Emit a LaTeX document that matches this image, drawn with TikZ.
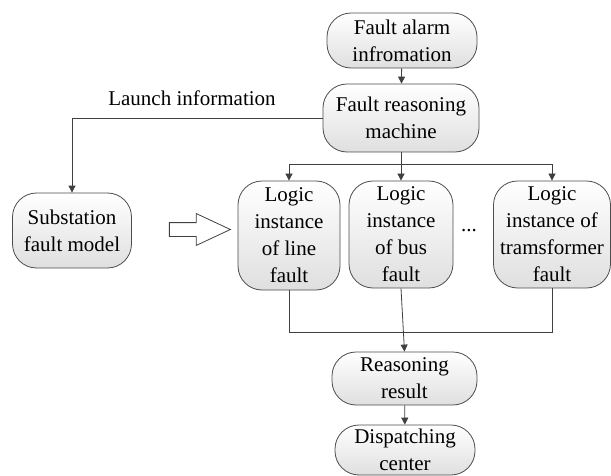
\documentclass[tikz,border=0pt]{standalone}
\usepackage{fontspec}
\setmainfont{Liberation Serif}
\usetikzlibrary{arrows.meta,shapes.arrows}
\tikzset{
  box/.style={draw=black!70, rounded corners=24pt, top color=white, bottom color=gray!25,
    align=center, inner sep=2pt, font=\fontsize{21}{27}\selectfont},
  arr/.style={-{Triangle[length=7pt,width=7pt]}},
}
\begin{document}
\begin{tikzpicture}[x=1pt,y=1pt,line width=0.8pt,draw=black!75]
\useasboundingbox (0,0) rectangle (611,475);
%top
\node[box,minimum width=150,minimum height=55] (alarm) at (402,434.5) {Fault alarm\\infromation};
\node[box,minimum width=156,minimum height=68] (reason) at (401,357) {Fault reasoning\\machine};
\node[font=\fontsize{21}{27}\selectfont] (launch) at (192,377) {Launch information};
%left
\node[box,minimum width=119,minimum height=75] (subst) at (72,244.5) {Substation\\fault model};
\node[single arrow,draw=black!75,fill=white,inner sep=6.5pt,single arrow head extend=9pt,
  single arrow tip angle=50,minimum height=61] (conv) at (192.5,245.5) {};
%logic instances
\node[box,minimum width=102,minimum height=109] (line) at (289,239.5) {Logic\\instance\\of line\\fault};
\node[box,minimum width=104,minimum height=107] (bus) at (401,240.5) {Logic\\instance\\of bus\\fault};
\node[font=\fontsize{21}{27}\selectfont] (dots) at (469,244) {...};
\node[box,minimum width=117,minimum height=107] (trans) at (552,240.5) {Logic\\instance of\\tramsformer\\fault};
%bottom
\node[box,minimum width=145,minimum height=53] (result) at (404.5,96.5) {Reasoning\\result};
\node[box,minimum width=140,minimum height=50] (dispatch) at (405,25) {Dispatching\\center};
\coordinate (split) at (401,311);
\coordinate (merge) at (404,143);
%connectors
\draw[arr] (alarm) -- (reason);
\draw[arr] (reason.west) -| (subst.north);
\draw (reason.south) -- (split);
\draw (line.north |- split) -- (trans.north |- split);
\draw[arr] (line.north |- split) -- (line.north);
\draw[arr] (split) -- (bus.north);
\draw[arr] (trans.north |- split) -- (trans.north);
\draw (line.south) -- (line.south |- merge) -- (trans.south |- merge) -- (trans.south);
\draw[arr] (bus.south) -- (result.north);
\draw[arr] (result) -- (dispatch);
\end{tikzpicture}
\end{document}
